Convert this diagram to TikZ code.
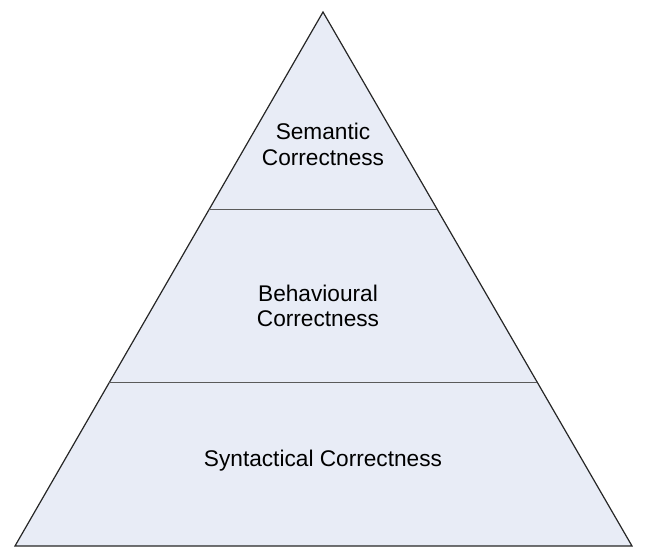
\documentclass[tikz,border=0pt]{standalone}
\usepackage{fontspec}
\setmainfont{Liberation Sans}
\usepackage{tikz}
\usetikzlibrary{calc}
\usepackage{xcolor}
\definecolor{layerfill}{HTML}{E8ECF6}
\definecolor{layerline}{HTML}{5A5A5A}

\begin{document}
\begin{tikzpicture}[x=0.75pt, y=-0.75pt]
  \tikzset{
    pyramid/.style={
      draw=black!85,
      fill=layerfill,
      line width=0.9pt,
      line join=miter,
    },
    divider/.style={
      draw=layerline,
      line width=0.9pt,
    },
    levellabel/.style={
      align=center,
      font=\fontsize{17}{19}\selectfont,
      inner sep=0pt,
    }
  }
  \useasboundingbox (0,0) rectangle (647,556);

  % Corners of the pyramid
  \coordinate (apex) at (323,12);
  \coordinate (baseleft) at (15,546);
  \coordinate (baseright) at (632,546);

  \draw[pyramid] (apex) -- (baseleft) -- (baseright) -- cycle;

  % Level borders
  \coordinate (upperleft) at ($(apex)!0.3699!(baseleft)$);
  \coordinate (upperright) at ($(apex)!0.3699!(baseright)$);
  \coordinate (lowerleft) at ($(apex)!0.6938!(baseleft)$);
  \coordinate (lowerright) at ($(apex)!0.6938!(baseright)$);

  \draw[divider] (upperleft) -- (upperright);
  \draw[divider] (lowerleft) -- (lowerright);

  % Level names
  \node[levellabel] (semantic) at (323,144.5) {Semantic\\Correctness};
  \node[levellabel] (behaviour) at (318,306) {Behavioural\\Correctness};
  \node[levellabel] (syntax) at (323,461) {Syntactical Correctness};
\end{tikzpicture}
\end{document}
